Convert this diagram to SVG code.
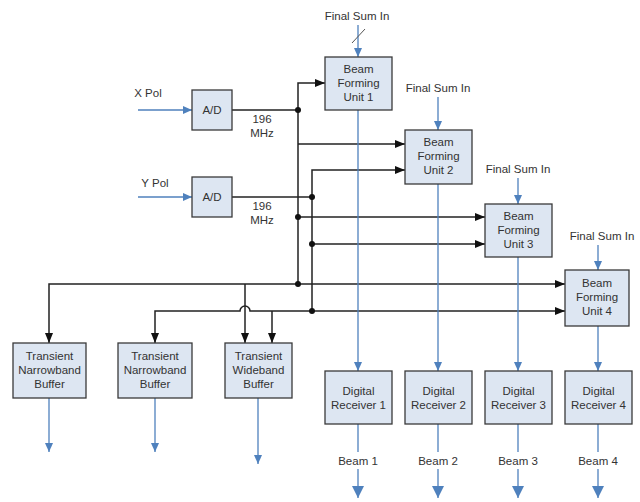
<svg xmlns="http://www.w3.org/2000/svg" width="640" height="502" viewBox="0 0 640 502">
<defs>
<style>
.box{fill:#dde6f2;stroke:#3a3a3a;stroke-width:1.3}
.t{font-family:"Liberation Sans",Arial,sans-serif;font-size:11.5px;fill:#333;text-anchor:middle}
.k{fill:none;stroke:#222;stroke-width:1.5}
.b{fill:none;stroke:#4f81bd;stroke-width:1.3}
.dot{fill:#111}
</style>
<marker id="ak" markerWidth="10" markerHeight="8" refX="10" refY="4" orient="auto" markerUnits="userSpaceOnUse"><path d="M0,0 L10,4 L0,8 z" fill="#111"/></marker>
<marker id="ab" markerWidth="9" markerHeight="8" refX="9" refY="4" orient="auto" markerUnits="userSpaceOnUse"><path d="M0,0 L9,4 L0,8 z" fill="#4f81bd"/></marker>
<marker id="abl" markerWidth="12" markerHeight="12" refX="12" refY="6" orient="auto" markerUnits="userSpaceOnUse"><path d="M0,0 L12,6 L0,12 z" fill="#4f81bd"/></marker>
</defs>
<rect width="640" height="502" fill="#fff"/>

<g id="connectors">
<line class="b" x1="138" y1="110" x2="192" y2="110" marker-end="url(#ab)"/>
<line class="b" x1="138" y1="197" x2="192" y2="197" marker-end="url(#ab)"/>
<line class="k" x1="232" y1="110" x2="298" y2="110"/>
<line class="k" x1="232" y1="197" x2="312" y2="197"/>
<polyline class="k" points="298,285 298,83 325,83" marker-end="url(#ak)"/>
<line class="k" x1="298" y1="144" x2="405" y2="144" marker-end="url(#ak)"/>
<line class="k" x1="298" y1="217" x2="485" y2="217" marker-end="url(#ak)"/>
<line class="k" x1="298" y1="284" x2="565" y2="284" marker-end="url(#ak)"/>
<polyline class="k" points="312,311 312,170 405,170" marker-end="url(#ak)"/>
<line class="k" x1="312" y1="244" x2="485" y2="244" marker-end="url(#ak)"/>
<line class="k" x1="312" y1="311" x2="565" y2="311" marker-end="url(#ak)"/>
<polyline class="k" points="298,284 49,284 49,343" marker-end="url(#ak)"/>
<line class="k" x1="245" y1="284" x2="245" y2="343" marker-end="url(#ak)"/>
<path class="k" d="M312,311 L250,311 A5,5 0 0 0 240,311 L155,311 L155,343" marker-end="url(#ak)"/>
<line class="k" x1="272" y1="311" x2="272" y2="343" marker-end="url(#ak)"/>
<circle class="dot" cx="298" cy="110" r="3"/>
<circle class="dot" cx="312" cy="197" r="3"/>
<circle class="dot" cx="298" cy="217" r="3"/>
<circle class="dot" cx="312" cy="244" r="3"/>
<circle class="dot" cx="298" cy="284" r="3"/>
<circle class="dot" cx="312" cy="311" r="3"/>
<line class="b" x1="358" y1="25" x2="358" y2="57" marker-end="url(#ab)"/>
<line x1="352" y1="43" x2="365" y2="29" stroke="#555" stroke-width="1"/>
<line class="b" x1="438" y1="97" x2="438" y2="130" marker-end="url(#ab)"/>
<line class="b" x1="518" y1="178" x2="518" y2="204" marker-end="url(#ab)"/>
<line class="b" x1="598" y1="245" x2="598" y2="270" marker-end="url(#ab)"/>
<line class="b" x1="358" y1="110" x2="358" y2="371" marker-end="url(#ab)"/>
<line class="b" x1="438" y1="184" x2="438" y2="371" marker-end="url(#ab)"/>
<line class="b" x1="518" y1="257" x2="518" y2="371" marker-end="url(#ab)"/>
<line class="b" x1="598" y1="326" x2="598" y2="371" marker-end="url(#ab)"/>
<line class="b" x1="358" y1="424" x2="358" y2="452"/>
<line class="b" x1="438" y1="424" x2="438" y2="452"/>
<line class="b" x1="518" y1="424" x2="518" y2="452"/>
<line class="b" x1="598" y1="424" x2="598" y2="452"/>
<line class="b" x1="358" y1="469" x2="358" y2="498" marker-end="url(#abl)"/>
<line class="b" x1="438" y1="469" x2="438" y2="498" marker-end="url(#abl)"/>
<line class="b" x1="518" y1="469" x2="518" y2="498" marker-end="url(#abl)"/>
<line class="b" x1="598" y1="469" x2="598" y2="498" marker-end="url(#abl)"/>
<line class="b" x1="49" y1="398" x2="49" y2="452" marker-end="url(#ab)"/>
<line class="b" x1="155" y1="398" x2="155" y2="452" marker-end="url(#ab)"/>
<line class="b" x1="258" y1="398" x2="258" y2="464" marker-end="url(#ab)"/>
</g>

<g id="labels">
<text class="t" x="148" y="97">X Pol</text>
<text class="t" x="155" y="187">Y Pol</text>
<text class="t" x="262" y="123">196</text>
<text class="t" x="262" y="137">MHz</text>
<text class="t" x="262" y="210">196</text>
<text class="t" x="262" y="224">MHz</text>
<text class="t" x="357" y="20">Final Sum In</text>
<text class="t" x="438" y="92">Final Sum In</text>
<text class="t" x="518" y="173">Final Sum In</text>
<text class="t" x="602" y="240">Final Sum In</text>
<text class="t" x="358" y="465">Beam 1</text>
<text class="t" x="438" y="465">Beam 2</text>
<text class="t" x="518" y="465">Beam 3</text>
<text class="t" x="598" y="465">Beam 4</text>
</g>

<g id="ad-x"><rect class="box" x="192" y="90" width="40" height="40"/><text class="t" x="212" y="114">A/D</text></g>
<g id="ad-y"><rect class="box" x="192" y="177" width="40" height="40"/><text class="t" x="212" y="201">A/D</text></g>

<g id="bfu1"><rect class="box" x="325" y="57" width="67" height="53"/><text class="t" x="358.5" y="73">Beam</text><text class="t" x="358.5" y="87">Forming</text><text class="t" x="358.5" y="101">Unit 1</text></g>
<g id="bfu2"><rect class="box" x="405" y="130" width="67" height="54"/><text class="t" x="438.5" y="146">Beam</text><text class="t" x="438.5" y="160">Forming</text><text class="t" x="438.5" y="174">Unit 2</text></g>
<g id="bfu3"><rect class="box" x="485" y="204" width="67" height="53"/><text class="t" x="518.5" y="220">Beam</text><text class="t" x="518.5" y="234">Forming</text><text class="t" x="518.5" y="248">Unit 3</text></g>
<g id="bfu4"><rect class="box" x="565" y="270" width="64" height="56"/><text class="t" x="597" y="287">Beam</text><text class="t" x="597" y="301">Forming</text><text class="t" x="597" y="315">Unit 4</text></g>

<g id="dr1"><rect class="box" x="325" y="371" width="67" height="53"/><text class="t" x="358.5" y="395">Digital</text><text class="t" x="358.5" y="409">Receiver 1</text></g>
<g id="dr2"><rect class="box" x="405" y="371" width="67" height="53"/><text class="t" x="438.5" y="395">Digital</text><text class="t" x="438.5" y="409">Receiver 2</text></g>
<g id="dr3"><rect class="box" x="485" y="371" width="67" height="53"/><text class="t" x="518.5" y="395">Digital</text><text class="t" x="518.5" y="409">Receiver 3</text></g>
<g id="dr4"><rect class="box" x="565" y="371" width="67" height="53"/><text class="t" x="598.5" y="395">Digital</text><text class="t" x="598.5" y="409">Receiver 4</text></g>

<g id="tnb1"><rect class="box" x="13" y="343" width="73" height="55"/><text class="t" x="49.5" y="360">Transient</text><text class="t" x="49.5" y="374">Narrowband</text><text class="t" x="49.5" y="388">Buffer</text></g>
<g id="tnb2"><rect class="box" x="118" y="343" width="74" height="55"/><text class="t" x="155" y="360">Transient</text><text class="t" x="155" y="374">Narrowband</text><text class="t" x="155" y="388">Buffer</text></g>
<g id="twb"><rect class="box" x="225" y="343" width="67" height="55"/><text class="t" x="258.5" y="360">Transient</text><text class="t" x="258.5" y="374">Wideband</text><text class="t" x="258.5" y="388">Buffer</text></g>
</svg>
